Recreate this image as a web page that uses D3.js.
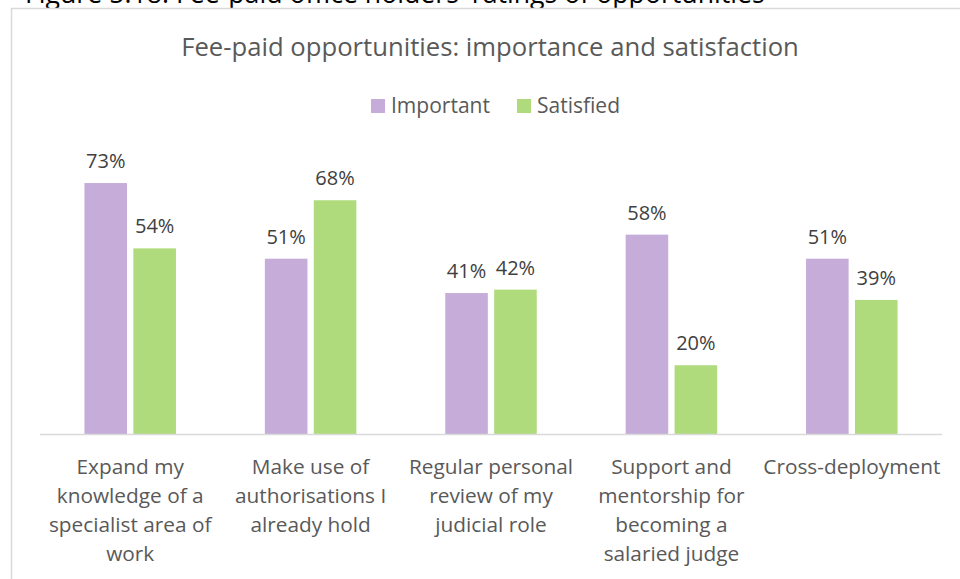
<!DOCTYPE html>
<html><head><meta charset="utf-8">
<script src="https://cdn.jsdelivr.net/npm/d3@7"></script>
<style>body{margin:0;background:#fff;} svg{display:block;}</style>
</head><body>
<script>
const categories = [
  ["Expand my","knowledge of a","specialist area of","work"],
  ["Make use of","authorisations I","already hold"],
  ["Regular personal","review of my","judicial role"],
  ["Support and","mentorship for","becoming a","salaried judge"],
  ["Cross-deployment"]
];
const important = [0.73, 0.51, 0.41, 0.58, 0.51];
const satisfied = [0.54, 0.68, 0.42, 0.20, 0.39];
const seriesNames = ["Important", "Satisfied"];
const colors = ["#C5ACD9", "#AFDB7D"];
const figureCaption = "Figure 5.18: Fee-paid office holders' ratings of opportunities";
const chartTitle = "Fee-paid opportunities: importance and satisfaction";

const W = 960, H = 579;
const font = "'Open Sans', sans-serif";
const svg = d3.select("body").append("svg").attr("width", W).attr("height", H);

function fitText(sel, target) {
  const w = sel.node().getComputedTextLength();
  const fs = parseFloat(sel.attr("font-size"));
  sel.attr("font-size", fs * target / w);
}

// caption (cut off at top)
const cap = svg.append("text").attr("x", 25).attr("y", 3).attr("font-family", font)
  .attr("font-size", 22).attr("fill", "#000").text(figureCaption);
fitText(cap, 740);

// chart frame
svg.append("rect").attr("x", 11.5).attr("y", 8.5).attr("width", 970).attr("height", 600)
  .attr("fill", "#fff").attr("stroke", "#d9d9d9").attr("stroke-width", 1.5);

const title = svg.append("text").attr("x", 490).attr("y", 56).attr("text-anchor", "middle")
  .attr("font-family", font).attr("font-size", 22).attr("fill", "#595959").text(chartTitle);
fitText(title, 618);

// legend
const leg = [{x: 371, tx: 391, w: 99}, {x: 517, tx: 537, w: 83}];
seriesNames.forEach((n, i) => {
  svg.append("rect").attr("x", leg[i].x).attr("y", 99).attr("width", 14).attr("height", 14).attr("fill", colors[i]);
  const lt = svg.append("text").attr("x", leg[i].tx).attr("y", 113).attr("font-family", font)
    .attr("font-size", 19).attr("fill", "#595959").text(n);
  fitText(lt, leg[i].w);
});

const x0 = d3.scaleBand().domain(d3.range(categories.length)).range([40, 942]).paddingInner(0).paddingOuter(0);
const x1 = d3.scaleBand().domain([0, 1]).range([0, 91.5]).paddingInner(0.13);
const y = d3.scaleLinear().domain([0, 0.8]).range([434, 159]);

const data = [important, satisfied];
const g = svg.append("g");
categories.forEach((c, i) => {
  const off = x0(i) + (x0.bandwidth() - 91.5) / 2;
  data.forEach((s, k) => {
    const bx = off + x1(k);
    g.append("rect").attr("x", bx).attr("y", y(s[i])).attr("width", x1.bandwidth())
      .attr("height", y(0) - y(s[i])).attr("fill", colors[k]);
    g.append("text").attr("x", bx + x1.bandwidth() / 2).attr("y", y(s[i]) - 15)
      .attr("text-anchor", "middle").attr("font-family", font).attr("font-size", 20)
      .attr("fill", "#404040").text(d3.format(".0%")(s[i]));
  });
});

// axis line
svg.append("line").attr("x1", 40).attr("x2", 942).attr("y1", 434.5).attr("y2", 434.5)
  .attr("stroke", "#d9d9d9").attr("stroke-width", 1.5);

// category labels
categories.forEach((lines, i) => {
  const t = svg.append("text").attr("text-anchor", "middle").attr("font-family", font)
    .attr("font-size", 20.8).attr("fill", "#595959");
  lines.forEach((ln, j) => {
    t.append("tspan").attr("x", x0(i) + x0.bandwidth() / 2).attr("y", 473.5 + j * 29).text(ln);
  });
});
</script>
</body></html>
